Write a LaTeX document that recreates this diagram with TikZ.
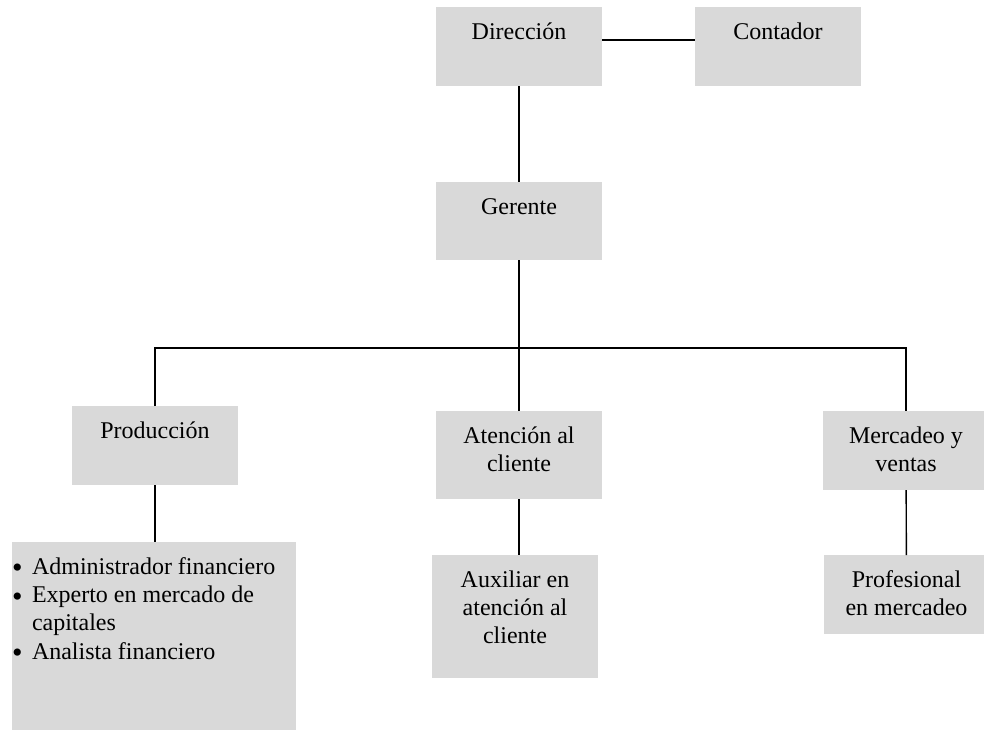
\documentclass[tikz,border=0pt]{standalone}
\usepackage{fontspec}
\setmainfont{Liberation Serif}
\definecolor{kastengrau}{HTML}{D9D9D9}
% Kasten mit Text oben
\newcommand{\kastentext}[3]{\parbox[t][#2][t]{#1}{\centering\rule{0pt}{16pt}#3}}
\newcommand{\punkt}{\hangindent=10pt\hangafter=1\noindent\makebox[10pt][l]{\raisebox{-1.8pt}{\smash{\fontsize{15}{14}\selectfont\textbullet}}}}

\begin{document}
\begin{tikzpicture}[x=0.5pt, y=-0.5pt,
    kasten/.style={fill=kastengrau, inner sep=0pt, outer sep=0pt, font=\fontsize{12}{14.2}\selectfont},
    linie/.style={line width=0.7pt}]
    \useasboundingbox (0,0) rectangle (984,729);
    % oberste Ebene:
    \node[kasten] (dir) at (519,46.5) {\kastentext{83pt}{39.5pt}{Dirección}};
    \node[kasten] (cont) at (778,46.5) {\kastentext{83pt}{39.5pt}{Contador}};
    \node[kasten] (ger) at (519,221) {\kastentext{83pt}{39pt}{Gerente}};
    % Abteilungen:
    \node[kasten] (prod) at (155,445.5) {\kastentext{83pt}{39.5pt}{Producción}};
    \node[kasten] (aten) at (519,455) {\kastentext{83pt}{44pt}{Atención al\\cliente}};
    \node[kasten] (merc) at (906,450.5) {\kastentext{83pt}{39.5pt}{Mercadeo y\\ventas}};
    % unterste Ebene:
    \node[kasten] (liste) at (154,638.5) {\parbox[t][96.5pt][t]{142pt}{\raggedright
        \punkt\rule{0pt}{16pt}Administrador financiero\par
        \punkt Experto en mercado de capitales\par
        \punkt Analista financiero\par}};
    \node[kasten] (aux) at (515,616.5) {\kastentext{83pt}{61.5pt}{Auxiliar en\\atención al\\cliente}};
    \node[kasten] (prof) at (906.5,594.5) {\kastentext{83pt}{39.5pt}{Profesional\\en mercadeo}};
    \coordinate (bus) at (519,348); % Querlinie
    \draw[linie] (dir) -- (ger);
    \draw[linie] ([yshift=3.25pt]dir.east) -- ([yshift=3.25pt]cont.west);
    \draw[linie] (ger.south) -- (aten.north);
    \draw[linie] (prod.north) |- (bus) -| (merc.north);
    \draw[linie] (prod.south) -- (prod.south |- liste.north);
    \draw[linie] (aten.south) -- (aten.south |- aux.north);
    \draw[linie] (merc) -- (prof);
\end{tikzpicture}
\end{document}
